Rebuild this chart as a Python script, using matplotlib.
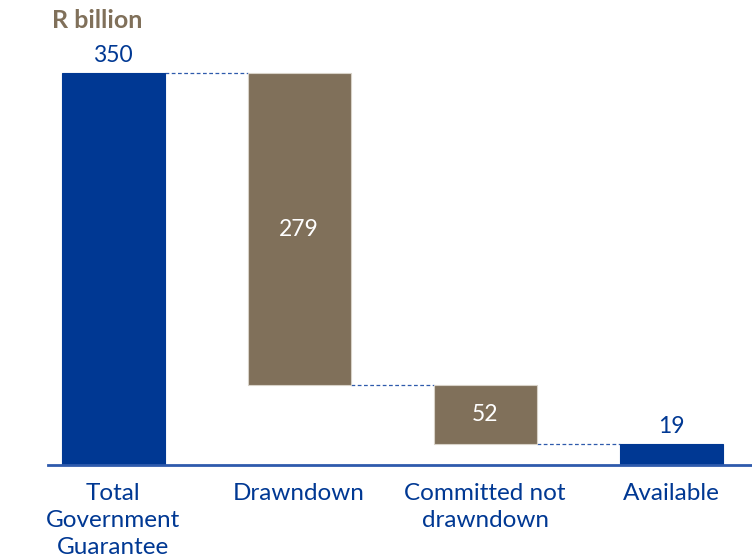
import matplotlib.pyplot as plt

plt.rcParams['font.family'] = ['Lato', 'DejaVu Sans']

categories = ["Total\nGovernment\nGuarantee", "Drawndown", "Committed not\ndrawndown", "Available"]
values = [350, 279, 52, 19]
bottoms = [0, 71, 19, 0]
kinds = ["total", "step", "step", "total"]

blue = "#003893"
brown = "#80705A"
line_blue = "#2E5AAC"

fig = plt.figure(figsize=(7.52, 5.59), dpi=100)
ax = fig.add_axes([48 / 752, 94 / 559, 704 / 752, 465 / 559])

x = list(range(len(values)))
width = 0.554
colors = [blue if k == "total" else brown for k in kinds]
edges = [blue if k == "total" else "#D8D2C8" for k in kinds]
ax.bar(x, values, width=width, bottom=bottoms, color=colors, edgecolor=edges, linewidth=0.8, zorder=2)

# dashed connectors between bars
for i in range(len(values) - 1):
    if kinds[i] == "total":
        level = bottoms[i] + values[i]
    else:
        level = bottoms[i]
    ax.plot([x[i] + width / 2, x[i + 1] - width / 2], [level, level],
            color=line_blue, linestyle=(0, (3, 2)), linewidth=0.9, zorder=1)

# value labels
for i, v in enumerate(values):
    if kinds[i] == "total":
        ax.text(x[i], bottoms[i] + v + 6, str(v), ha="center", va="bottom",
                color=blue, fontsize=16.5)
    else:
        ax.text(x[i], bottoms[i] + v / 2, str(v), ha="center", va="center",
                color="white", fontsize=16.5)

ax.set_xlim(-0.35, 3.435)
ax.set_ylim(0, 415)
for s in ["top", "right", "left"]:
    ax.spines[s].set_visible(False)
ax.spines["bottom"].set_color(line_blue)
ax.spines["bottom"].set_linewidth(2)
ax.set_yticks([])
ax.set_xticks(x)
ax.set_xticklabels(categories, color=blue, fontsize=17.5, linespacing=1.35)
ax.tick_params(axis="x", length=0, pad=13)

fig.text(52 / 752, 1 - 21 / 559, "R billion", color=brown, fontsize=18,
         fontweight="bold", ha="left", va="center")

fig.savefig("out.png", dpi=100)
